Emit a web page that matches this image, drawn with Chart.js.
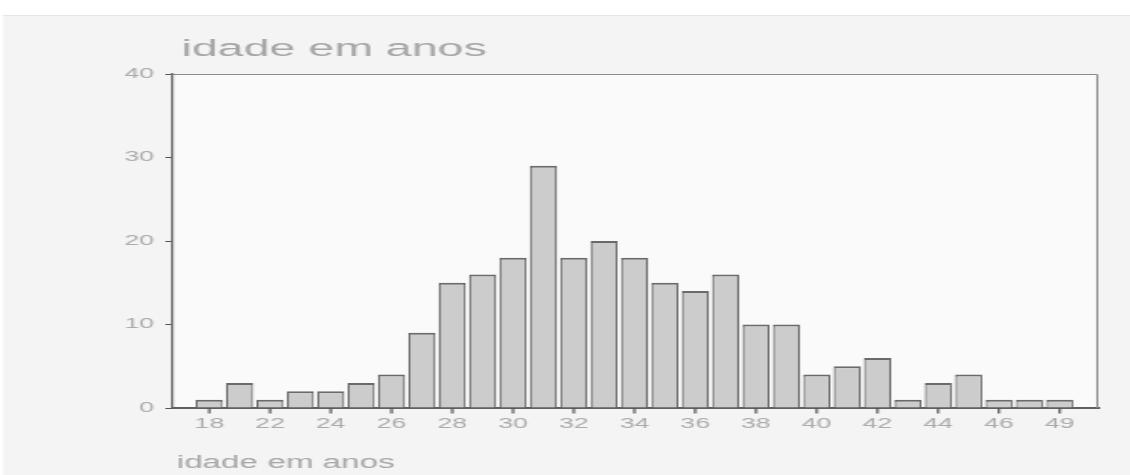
<!DOCTYPE html>
<html>
<head>
<meta charset="utf-8">
<script src="https://cdn.jsdelivr.net/npm/chart.js@4"></script>
<style>
  html, body { margin: 0; padding: 0; background: #ffffff; overflow: hidden; }
  #wrap {
    position: absolute; left: 0; top: 0;
    width: 595px; height: 475px;
    transform: scaleX(1.9); transform-origin: 0 0;
  }
  canvas { display: block; }
</style>
</head>
<body>
<div id="wrap"><canvas id="c" width="595" height="475"></canvas></div>
<script>
// Age categories (years) and number of people in each
const ages = ['18', '20', '22', '23', '24', '25', '26', '27', '28', '29', '30', '31', '32', '33', '34',
              '35', '36', '37', '38', '39', '40', '41', '42', '43', '44', '45', '46', '47', '49'];
const counts = [1, 3, 1, 2, 2, 3, 4, 9, 15, 16, 18, 29, 18, 20, 18,
                15, 14, 16, 10, 10, 4, 5, 6, 1, 3, 4, 1, 1, 1];
const yTicks = [0, 10, 20, 30, 40];
const chartTitle = 'idade em anos';
const axisTitle = 'idade em anos';

const FONT = '"Liberation Sans", Arial, sans-serif';

// Page panel, plot background, frame, x tick marks and captions
const decor = {
  id: 'decor',
  beforeDraw(chart) {
    const { ctx, width, height, chartArea: a } = chart;
    ctx.save();
    ctx.fillStyle = '#ffffff';
    ctx.fillRect(0, 0, width, height);
    ctx.fillStyle = '#f4f4f4';
    ctx.fillRect(1.6, 15, width, height);
    ctx.fillStyle = '#e6e6e6';
    ctx.fillRect(1.6, 15, width, 1);
    ctx.fillStyle = '#fafafa';
    ctx.fillRect(a.left, a.top, a.right - a.left, a.bottom - a.top);
    ctx.restore();
  },
  afterDraw(chart) {
    const { ctx, chartArea: a } = chart;
    const xs = chart.scales.x;
    ctx.save();
    ctx.strokeStyle = '#8a8a8a';
    ctx.lineWidth = 1;
    ctx.beginPath();
    ctx.moveTo(a.left, a.top + 0.5);
    ctx.lineTo(a.right - 0.5, a.top + 0.5);
    ctx.lineTo(a.right - 0.5, a.bottom);
    ctx.stroke();

    ctx.strokeStyle = '#555555';
    ctx.lineWidth = 1.2;
    ctx.beginPath();
    xs.ticks.forEach(t => {
      const px = xs.getPixelForValue(t.value);
      ctx.moveTo(px, a.bottom);
      ctx.lineTo(px, a.bottom + 5.5);
    });
    ctx.stroke();

    ctx.fillStyle = '#a6a6a6';
    ctx.textAlign = 'left';
    ctx.textBaseline = 'alphabetic';
    ctx.font = '24.5px ' + FONT;
    ctx.fillText(chartTitle, 95.5, 55.5);
    ctx.font = '17.5px ' + FONT;
    ctx.fillText(axisTitle, 93, 468);
    ctx.restore();
  }
};

new Chart(document.getElementById('c'), {
  type: 'bar',
  data: {
    datasets: [{
      data: counts.map((v, i) => ({ x: i, y: v })),
      backgroundColor: '#cccccc',
      borderColor: '#6a6a6a',
      borderWidth: { top: 2, left: 1.1, right: 1.1, bottom: 0 },
      borderSkipped: 'start',
      barPercentage: 0.9,
      categoryPercentage: 1.0
    }]
  },
  options: {
    responsive: false,
    animation: false,
    events: [],
    layout: { padding: { left: 0, right: 17, top: 74, bottom: 0 } },
    plugins: {
      legend: { display: false },
      title: { display: false },
      tooltip: { enabled: false }
    },
    scales: {
      x: {
        type: 'linear',
        min: -1.23,
        max: 29.27,
        offset: false,
        afterBuildTicks(scale) {
          scale.ticks = ages.map((a, i) => ({ value: i })).filter(t => t.value % 2 === 0);
        },
        afterFit(scale) { scale.height = 67; },
        ticks: {
          autoSkip: false,
          maxRotation: 0,
          padding: 2,
          color: '#ababab',
          font: { family: FONT, size: 14 },
          callback: (v) => ages[v]
        },
        grid: {
          offset: false, drawOnChartArea: false, drawTicks: true, tickLength: 6,
          color: 'rgba(0,0,0,0)', tickColor: 'rgba(0,0,0,0)'
        },
        border: { display: true, color: '#606060', width: 2 }
      },
      y: {
        min: 0,
        max: 40,
        afterBuildTicks(scale) { scale.ticks = yTicks.map(v => ({ value: v })); },
        afterFit(scale) { scale.width = 90.5; },
        ticks: {
          padding: 6,
          color: '#ababab',
          font: { family: FONT, size: 14 }
        },
        grid: { drawOnChartArea: false, drawTicks: true, tickLength: 3.5, color: '#555555', lineWidth: 1 },
        border: { display: true, color: '#606060', width: 1.2 }
      }
    }
  },
  plugins: [decor]
});
</script>
</body>
</html>
